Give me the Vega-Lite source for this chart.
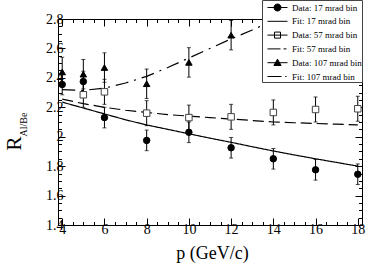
{
  "$schema": "https://vega.github.io/schema/vega-lite/v6.json",
  "width": 304,
  "height": 206,
  "autosize": {"type": "none"},
  "padding": {"left": 58, "top": 19, "right": 28, "bottom": 40},
  "background": "white",
  "config": {
    "view": {"stroke": "black", "strokeWidth": 1},
    "font": "Liberation Serif",
    "axis": {"grid": false, "domain": false, "tickColor": "black", "labelColor": "black", "titleColor": "black", "labelFont": "Liberation Serif", "titleFont": "Liberation Serif", "titleFontWeight": "normal", "labelOverlap": false, "labelFlush": false, "tickWidth": 1},
    "legend": {"fillColor": "white", "strokeColor": "#444444", "padding": 0, "zindex": 1}
  },
  "datasets": {
    "pts": [
      {"series": "17", "p": 4, "R": 2.355, "lo": 2.285, "hi": 2.425},
      {"series": "17", "p": 5, "R": 2.375, "lo": 2.305, "hi": 2.445},
      {"series": "17", "p": 6, "R": 2.13, "lo": 2.06, "hi": 2.2},
      {"series": "17", "p": 8, "R": 1.975, "lo": 1.905, "hi": 2.045},
      {"series": "17", "p": 10, "R": 2.03, "lo": 1.96, "hi": 2.1},
      {"series": "17", "p": 12, "R": 1.925, "lo": 1.855, "hi": 1.995},
      {"series": "17", "p": 14, "R": 1.85, "lo": 1.78, "hi": 1.92},
      {"series": "17", "p": 16, "R": 1.775, "lo": 1.705, "hi": 1.845},
      {"series": "17", "p": 18, "R": 1.745, "lo": 1.675, "hi": 1.815},
      {"series": "57", "p": 5, "R": 2.285, "lo": 2.2, "hi": 2.37},
      {"series": "57", "p": 6, "R": 2.305, "lo": 2.22, "hi": 2.39},
      {"series": "57", "p": 8, "R": 2.16, "lo": 2.075, "hi": 2.245},
      {"series": "57", "p": 10, "R": 2.13, "lo": 2.045, "hi": 2.215},
      {"series": "57", "p": 12, "R": 2.135, "lo": 2.05, "hi": 2.22},
      {"series": "57", "p": 14, "R": 2.165, "lo": 2.08, "hi": 2.25},
      {"series": "57", "p": 16, "R": 2.185, "lo": 2.1, "hi": 2.27},
      {"series": "57", "p": 18, "R": 2.19, "lo": 2.105, "hi": 2.275},
      {"series": "107", "p": 4, "R": 2.44, "lo": 2.34, "hi": 2.54},
      {"series": "107", "p": 5, "R": 2.425, "lo": 2.325, "hi": 2.525},
      {"series": "107", "p": 6, "R": 2.47, "lo": 2.37, "hi": 2.57},
      {"series": "107", "p": 8, "R": 2.36, "lo": 2.26, "hi": 2.46},
      {"series": "107", "p": 10, "R": 2.505, "lo": 2.405, "hi": 2.605},
      {"series": "107", "p": 12, "R": 2.69, "lo": 2.59, "hi": 2.79}
    ],
    "fits": [
      {"series": "17", "p": 4, "R": 2.235}, {"series": "17", "p": 5, "R": 2.195}, {"series": "17", "p": 6, "R": 2.155},
      {"series": "17", "p": 7, "R": 2.115}, {"series": "17", "p": 8, "R": 2.08}, {"series": "17", "p": 9, "R": 2.05},
      {"series": "17", "p": 10, "R": 2.02}, {"series": "17", "p": 11, "R": 1.99}, {"series": "17", "p": 12, "R": 1.962},
      {"series": "17", "p": 13, "R": 1.932}, {"series": "17", "p": 14, "R": 1.903}, {"series": "17", "p": 15, "R": 1.876},
      {"series": "17", "p": 16, "R": 1.85}, {"series": "17", "p": 17, "R": 1.825}, {"series": "17", "p": 18, "R": 1.8},
      {"series": "57", "p": 4, "R": 2.255}, {"series": "57", "p": 5, "R": 2.225}, {"series": "57", "p": 6, "R": 2.2},
      {"series": "57", "p": 7, "R": 2.18}, {"series": "57", "p": 8, "R": 2.165}, {"series": "57", "p": 9, "R": 2.15},
      {"series": "57", "p": 10, "R": 2.14}, {"series": "57", "p": 11, "R": 2.13}, {"series": "57", "p": 12, "R": 2.12},
      {"series": "57", "p": 13, "R": 2.11}, {"series": "57", "p": 14, "R": 2.1}, {"series": "57", "p": 15, "R": 2.095},
      {"series": "57", "p": 16, "R": 2.09}, {"series": "57", "p": 17, "R": 2.085}, {"series": "57", "p": 18, "R": 2.08},
      {"series": "107", "p": 4, "R": 2.32}, {"series": "107", "p": 5, "R": 2.315}, {"series": "107", "p": 6, "R": 2.33},
      {"series": "107", "p": 7, "R": 2.365}, {"series": "107", "p": 8, "R": 2.41}, {"series": "107", "p": 9, "R": 2.47},
      {"series": "107", "p": 10, "R": 2.535}, {"series": "107", "p": 11, "R": 2.6}, {"series": "107", "p": 12, "R": 2.665},
      {"series": "107", "p": 13, "R": 2.725}, {"series": "107", "p": 14, "R": 2.79}, {"series": "107", "p": 15, "R": 2.86}
    ],
    "leg": [
      {"leg": "Data: 17 mrad bin"}, {"leg": "Fit: 17 mrad bin"},
      {"leg": "Data: 57 mrad bin"}, {"leg": "Fit: 57 mrad bin"},
      {"leg": "Data: 107 mrad bin"}, {"leg": "Fit: 107 mrad bin"}
    ]
  },
  "resolve": {"axis": {"x": "independent", "y": "independent"}},
  "layer": [
    {
      "data": {"name": "fits"},
      "mark": {"type": "line", "clip": true, "strokeWidth": 1.2, "color": "black"},
      "encoding": {
        "x": {"field": "p", "type": "quantitative", "scale": {"domain": [3.8, 18.2], "nice": false, "zero": false},
          "axis": {"orient": "bottom", "values": [4,4.5,5,5.5,6,6.5,7,7.5,8,8.5,9,9.5,10,10.5,11,11.5,12,12.5,13,13.5,14,14.5,15,15.5,16,16.5,17,17.5,18],
            "tickSize": {"condition": {"test": "datum.value % 2 == 0", "value": -7}, "value": -3.5},
            "labelExpr": "datum.value % 2 == 0 ? format(datum.value, 'd') : ''",
            "labelFontSize": 14, "labelPadding": 4,
            "title": "p (GeV/c)", "titleFontSize": 18, "titleX": 154, "titleY": 33, "titleBaseline": "alphabetic", "titleAlign": "center"}},
        "y": {"field": "R", "type": "quantitative", "scale": {"domain": [1.4, 2.8], "nice": false, "zero": false},
          "axis": {"orient": "left", "values": [1.4,1.45,1.5,1.55,1.6,1.65,1.7,1.75,1.8,1.85,1.9,1.95,2,2.05,2.1,2.15,2.2,2.25,2.3,2.35,2.4,2.45,2.5,2.55,2.6,2.65,2.7,2.75,2.8],
            "tickSize": {"condition": {"test": "abs(datum.value*5 - round(datum.value*5)) < 0.01", "value": -7}, "value": -3.5},
            "labelExpr": "abs(datum.value*5 - round(datum.value*5)) < 0.01 ? format(datum.value, '~g') : ''",
            "labelFontSize": 14, "labelPadding": 2,
            "title": "R", "titleFontSize": 21, "titleX": -38, "titleY": 124, "titleBaseline": "alphabetic", "titleAlign": "center", "titleAngle": -90}},
        "detail": {"field": "series"},
        "strokeDash": {"field": "series", "type": "nominal", "scale": {"domain": ["17", "57", "107"], "range": [[1, 0], [11, 5], [13, 6, 2, 6]]}, "legend": null}
      }
    },
    {
      "data": {"name": "pts"},
      "mark": {"type": "rule", "color": "black", "strokeWidth": 1},
      "encoding": {
        "x": {"field": "p", "type": "quantitative",
          "axis": {"orient": "top", "values": [4,4.5,5,5.5,6,6.5,7,7.5,8,8.5,9,9.5,10,10.5,11,11.5,12,12.5,13,13.5,14,14.5,15,15.5,16,16.5,17,17.5,18],
            "tickSize": {"condition": {"test": "datum.value % 2 == 0", "value": -7}, "value": -3.5},
            "labels": false, "title": null}},
        "y": {"field": "lo", "type": "quantitative",
          "axis": {"orient": "right", "values": [1.4,1.45,1.5,1.55,1.6,1.65,1.7,1.75,1.8,1.85,1.9,1.95,2,2.05,2.1,2.15,2.2,2.25,2.3,2.35,2.4,2.45,2.5,2.55,2.6,2.65,2.7,2.75,2.8],
            "tickSize": {"condition": {"test": "abs(datum.value*5 - round(datum.value*5)) < 0.01", "value": -7}, "value": -3.5},
            "labels": false, "title": null}},
        "y2": {"field": "hi"}
      }
    },
    {
      "data": {"name": "pts"},
      "mark": {"type": "tick", "orient": "horizontal", "color": "black", "size": 4, "thickness": 1},
      "encoding": {
        "x": {"field": "p", "type": "quantitative", "axis": null},
        "y": {"field": "lo", "type": "quantitative", "axis": null}
      }
    },
    {
      "data": {"name": "pts"},
      "mark": {"type": "tick", "orient": "horizontal", "color": "black", "size": 4, "thickness": 1},
      "encoding": {
        "x": {"field": "p", "type": "quantitative", "axis": null},
        "y": {"field": "hi", "type": "quantitative", "axis": null}
      }
    },
    {
      "data": {"name": "pts"},
      "transform": [{"filter": "datum.series == '17'"}],
      "mark": {"type": "point", "shape": "circle", "size": 42, "strokeWidth": 1, "fill": "black", "stroke": "black", "opacity": 1},
      "encoding": {
        "x": {"field": "p", "type": "quantitative", "axis": null},
        "y": {"field": "R", "type": "quantitative", "axis": null}
      }
    },
    {
      "data": {"name": "pts"},
      "transform": [{"filter": "datum.series == '57'"}],
      "mark": {"type": "point", "shape": "square", "size": 42, "strokeWidth": 1, "fill": "white", "stroke": "#444444", "opacity": 1},
      "encoding": {
        "x": {"field": "p", "type": "quantitative", "axis": null},
        "y": {"field": "R", "type": "quantitative", "axis": null}
      }
    },
    {
      "data": {"name": "pts"},
      "transform": [{"filter": "datum.series == '107'"}],
      "mark": {"type": "point", "shape": "triangle-up", "size": 42, "strokeWidth": 1, "fill": "black", "stroke": "black", "opacity": 1},
      "encoding": {
        "x": {"field": "p", "type": "quantitative", "axis": null},
        "y": {"field": "R", "type": "quantitative", "axis": null}
      }
    },
    {
      "data": {"name": "leg"},
      "mark": {"type": "point", "size": 196, "strokeWidth": 1, "opacity": 1},
      "encoding": {
        "x": {"field": "px", "type": "quantitative", "axis": null},
        "y": {"field": "py", "type": "quantitative",
          "axis": {"orient": "left", "ticks": false, "labels": false, "domain": false, "title": "Al/Be", "titleFontSize": 10, "titleX": -31.5, "titleY": 105, "titleBaseline": "alphabetic", "titleAlign": "center", "titleAngle": -90}},
        "shape": {"field": "leg", "type": "nominal",
          "scale": {"domain": ["Data: 17 mrad bin", "Fit: 17 mrad bin", "Data: 57 mrad bin", "Fit: 57 mrad bin", "Data: 107 mrad bin", "Fit: 107 mrad bin"],
            "range": [
              "M-1.43,0H1.43M0.5,0A0.5,0.5 0 1 1 -0.5,0A0.5,0.5 0 1 1 0.5,0Z",
              "M-1.43,0H1.43",
              "M-1.43,0H1.43M-0.43,-0.43H0.43V0.43H-0.43Z",
              "M-1.43,0H0.43M0.86,0H1.29",
              "M-1.43,0H1.43M0,-0.5L0.52,0.4H-0.52Z",
              "M-1.43,0H0.57M1.1,0H1.3"
            ]},
          "legend": {"orient": "none", "legendX": 204, "legendY": -19, "title": null, "fillColor": "white", "strokeColor": "#444444", "padding": 0, "zindex": 1,
            "labelFont": "Liberation Serif", "labelFontSize": 9, "labelColor": "black", "labelOffset": 7, "symbolOffset": 8, "rowPadding": 0.8,
            "symbolStrokeWidth": 1, "symbolSize": 196, "symbolOpacity": 1,
            "labelExpr": "datum.label + '\u00a0\u00a0\u00a0\u00a0\u00a0\u00a0\u00a0\u00a0\u00a0\u00a0\u00a0\u00a0'"}},
        "fill": {"field": "leg", "type": "nominal",
          "scale": {"domain": ["Data: 17 mrad bin", "Fit: 17 mrad bin", "Data: 57 mrad bin", "Fit: 57 mrad bin", "Data: 107 mrad bin", "Fit: 107 mrad bin"],
            "range": ["black", "black", "white", "black", "black", "black"]}},
        "stroke": {"field": "leg", "type": "nominal",
          "scale": {"domain": ["Data: 17 mrad bin", "Fit: 17 mrad bin", "Data: 57 mrad bin", "Fit: 57 mrad bin", "Data: 107 mrad bin", "Fit: 107 mrad bin"],
            "range": ["black", "black", "black", "black", "black", "black"]}}
      }
    }
  ]
}
